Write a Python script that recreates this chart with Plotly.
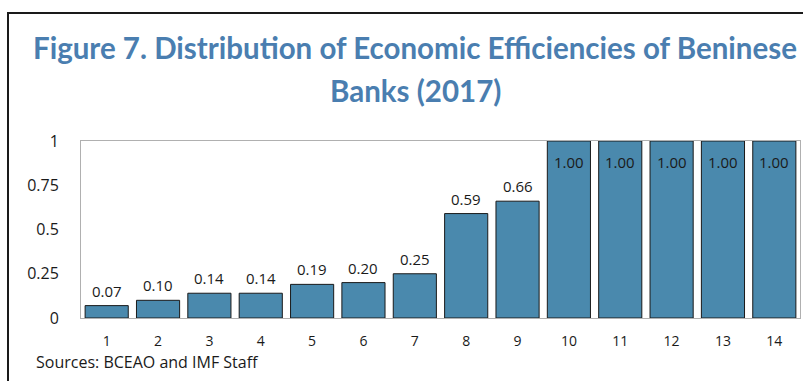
import plotly.graph_objects as go

# Bank index (ranked by efficiency score) and the 2017 economic efficiency scores
banks = [str(i) for i in range(1, 15)]
efficiency = [0.07, 0.10, 0.14, 0.14, 0.19, 0.20, 0.25, 0.59, 0.66,
              1.00, 1.00, 1.00, 1.00, 1.00]
y_ticks = [0, 0.25, 0.5, 0.75, 1]
y_tick_labels = ["0", "0.25", "0.5", "0.75", "1"]
title_lines = ["Figure 7. Distribution of Economic Efficiencies of Beninese",
               "Banks (2017)"]

W, H = 803, 381
L, R, T, B = 81, 3, 141, 63
pw, ph = W - L - R, H - T - B


def px_x(p):
    return (p - L) / pw


def px_y(p):
    return (H - B - p) / ph


fig = go.Figure(
    go.Bar(
        x=banks,
        y=efficiency,
        marker=dict(color="#4a89ad", line=dict(color="#1a1a1a", width=1)),
        hoverinfo="x+y",
    )
)

# Value labels: above short bars, tucked inside the top of full-score bars.
# Category axes place annotations by category index.
for i, v in enumerate(efficiency):
    full = v >= 0.99
    fig.add_annotation(
        x=i, y=v,
        xref="x", yref="y",
        text=f"{v:.2f}",
        showarrow=False,
        xanchor="center",
        yanchor="top" if full else "bottom",
        yshift=-9 if full else 3,
        font=dict(family="Open Sans", size=15, color="#1a1a1a"),
    )

fig.update_layout(
    width=W,
    height=H,
    margin=dict(l=L, r=R, t=T, b=B),
    paper_bgcolor="white",
    plot_bgcolor="white",
    bargap=0.16,
    showlegend=False,
    font=dict(family="Open Sans", color="#1a1a1a"),
)

fig.update_xaxes(
    type="category",
    range=[-0.5, len(banks) - 0.5],
    showgrid=False,
    showline=True,
    linecolor="#b0b0b0",
    linewidth=1,
    mirror=True,
    ticks="",
    tickfont=dict(size=14, color="#1a1a1a"),
    ticklabelstandoff=10,
)
fig.update_yaxes(
    range=[0, 1],
    tickvals=y_ticks,
    ticktext=y_tick_labels,
    showgrid=False,
    zeroline=False,
    showline=True,
    linecolor="#b0b0b0",
    linewidth=1,
    mirror=True,
    ticks="",
    tickfont=dict(size=16, color="#1a1a1a"),
    ticklabelstandoff=18,
)

# Two-line title, each line placed on its own
for line, cy in zip(title_lines, [47, 90]):
    fig.add_annotation(
        xref="paper", yref="paper",
        x=px_x(415), y=px_y(cy),
        text=f"<b>{line}</b>",
        showarrow=False,
        xanchor="center", yanchor="middle",
        font=dict(family="Lato", size=29.5, color="#4a7eb0"),
    )

# Source note
fig.add_annotation(
    xref="paper", yref="paper",
    x=px_x(34), y=px_y(362),
    text="Sources: BCEAO and IMF Staff",
    showarrow=False,
    xanchor="left", yanchor="middle",
    font=dict(family="Open Sans", size=16, color="#1a1a1a"),
)

# Outer frame
fig.add_shape(
    type="rect",
    xref="paper", yref="paper",
    x0=px_x(8), x1=px_x(W + 10),
    y0=px_y(H + 10), y1=px_y(13),
    line=dict(color="#1a1a1a", width=2),
    fillcolor="rgba(0,0,0,0)",
    layer="above",
)

fig.write_html("out.html")
